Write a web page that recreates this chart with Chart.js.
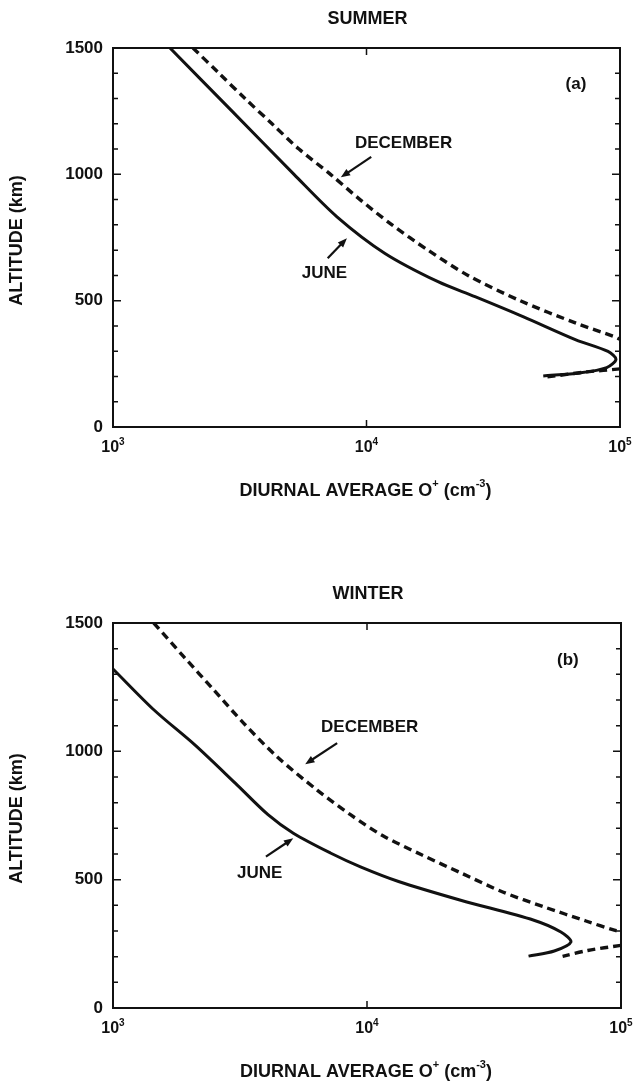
<!DOCTYPE html>
<html>
<head>
<meta charset="utf-8">
<script src="https://cdn.jsdelivr.net/npm/chart.js@4.4.1/dist/chart.umd.min.js"></script>
<style>
  html, body { margin: 0; padding: 0; background: #fff; }
  canvas { display: block; }
</style>
</head>
<body>
<canvas id="summerChart" width="636" height="542"></canvas>
<canvas id="winterChart" width="636" height="543"></canvas>
<script>
// axis settings
const densityMin = 1e3;
const densityMax = 1e5;
const decadeExps = [3, 4, 5];
const altTicks = [0, 500, 1000, 1500];
const altMinorStep = 100;

// summer (a): altitude in km, O+ density in cm^-3
const summerJuneAlt = [1500, 1250, 1000, 832, 687, 575, 516, 437, 345, 299, 268, 235, 214, 202];
const summerJuneDens = [1678, 2948, 5176, 7648, 11830, 19150, 26800, 41430, 67000, 89700, 96400, 88600, 69500, 49800];
const summerDecAlt = [1500, 1400, 1300, 1200, 1100, 1000, 900, 800, 700, 600, 500, 411, 358, 347];
const summerDecDens = [2068, 2619, 3317, 4239, 5416, 7211, 9427, 12610, 17480, 25150, 40330, 67060, 94700, 100000];
const summerDecLowAlt = [230, 218, 198];
const summerDecLowDens = [100000, 73900, 51500];

// winter (b)
const winterJuneAlt = [1321, 1161, 1025, 876, 753, 681, 604, 550, 493, 420, 342, 296, 257, 222, 202];
const winterJuneDens = [1000, 1451, 2100, 3029, 4076, 5129, 7178, 9427, 13310, 23380, 45390, 58000, 63500, 54600, 43250];
const winterDecAlt = [1500, 1370, 1240, 1110, 979, 849, 753, 672, 597, 523, 452, 394, 339, 303, 298];
const winterDecDens = [1447, 1894, 2488, 3266, 4424, 6364, 8610, 11510, 16400, 23810, 34230, 49700, 72780, 94100, 100000];
const winterDecLowAlt = [244, 224, 201];
const winterDecLowDens = [100000, 73900, 58900];

// text labels and arrows, placed in data units
const summerNotes = [
    { text: '(a)', x: 67000, y: 1358 },
    { text: 'DECEMBER', x: 14000, y: 1122 },
    { text: 'JUNE', x: 6820, y: 608 }
];
const summerArrows = [
    { x0: 10440, y0: 1069, x1: 7920, y1: 988 },
    { x0: 7030, y0: 668, x1: 8370, y1: 747 }
];
const winterNotes = [
    { text: '(b)', x: 61800, y: 1353 },
    { text: 'DECEMBER', x: 10250, y: 1093 },
    { text: 'JUNE', x: 3780, y: 525 }
];
const winterArrows = [
    { x0: 7630, y0: 1032, x1: 5710, y1: 950 },
    { x0: 4000, y0: 590, x1: 5125, y1: 661 }
];

const FONT = '"Liberation Sans", Arial, Helvetica, sans-serif';
const INK = '#111';

function toPoints(dens, alt) {
    return dens.map((d, i) => ({ x: d, y: alt[i] }));
}

// draws text made of normal and superscript pieces
function drawRich(ctx, parts, x, y, size, align) {
    const supSize = Math.round(size * 0.62);
    let total = 0;
    parts.forEach(p => {
        ctx.font = `bold ${p.sup ? supSize : size}px ${FONT}`;
        p.w = ctx.measureText(p.t).width;
        total += p.w;
    });
    let cx = x;
    if (align === 'center') cx = x - total / 2;
    if (align === 'right') cx = x - total;
    ctx.textAlign = 'left';
    ctx.textBaseline = 'middle';
    parts.forEach(p => {
        ctx.font = `bold ${p.sup ? supSize : size}px ${FONT}`;
        ctx.fillText(p.t, cx, p.sup ? y - size * 0.38 : y);
        cx += p.w;
    });
}

function drawArrow(ctx, x0, y0, x1, y1) {
    const ang = Math.atan2(y1 - y0, x1 - x0);
    const head = 10;
    ctx.lineWidth = 2.2;
    ctx.beginPath();
    ctx.moveTo(x0, y0);
    ctx.lineTo(x1 - Math.cos(ang) * head * 0.8, y1 - Math.sin(ang) * head * 0.8);
    ctx.stroke();
    ctx.beginPath();
    ctx.moveTo(x1, y1);
    ctx.lineTo(x1 - head * Math.cos(ang - 0.38), y1 - head * Math.sin(ang - 0.38));
    ctx.lineTo(x1 - head * Math.cos(ang + 0.38), y1 - head * Math.sin(ang + 0.38));
    ctx.closePath();
    ctx.fill();
}

const framePlugin = {
    id: 'frame',
    afterDraw(chart, args, opts) {
        const ctx = chart.ctx;
        const area = chart.chartArea;
        const xs = chart.scales.x;
        const ys = chart.scales.y;
        ctx.save();
        ctx.strokeStyle = INK;
        ctx.fillStyle = INK;

        // box
        ctx.lineWidth = 2;
        ctx.strokeRect(area.left, area.top, area.right - area.left, area.bottom - area.top);

        // inward ticks on left and right
        ctx.lineWidth = 1.5;
        for (let a = 0; a <= 1500; a += altMinorStep) {
            const py = ys.getPixelForValue(a);
            const len = a % 500 === 0 ? 8 : 5;
            ctx.beginPath();
            ctx.moveTo(area.left, py);
            ctx.lineTo(area.left + len, py);
            ctx.moveTo(area.right, py);
            ctx.lineTo(area.right - len, py);
            ctx.stroke();
        }
        // inward ticks on top and bottom at inner decades
        decadeExps.slice(1, -1).forEach(e => {
            const px = xs.getPixelForValue(Math.pow(10, e));
            ctx.beginPath();
            ctx.moveTo(px, area.bottom);
            ctx.lineTo(px, area.bottom - 7);
            ctx.moveTo(px, area.top);
            ctx.lineTo(px, area.top + 7);
            ctx.stroke();
        });

        // tick labels
        altTicks.forEach(a => {
            drawRich(ctx, [{ t: String(a) }], area.left - 10, ys.getPixelForValue(a), 17, 'right');
        });
        decadeExps.forEach(e => {
            const px = xs.getPixelForValue(Math.pow(10, e));
            drawRich(ctx, [{ t: '10' }, { t: String(e), sup: true }], px, area.bottom + 21, 16, 'center');
        });

        // titles
        const midX = (area.left + area.right) / 2;
        drawRich(ctx, [{ t: opts.title }], midX + 1, area.top - 29, 18, 'center');
        drawRich(ctx, [{ t: 'DIURNAL AVERAGE O' }, { t: '+', sup: true }, { t: ' (cm' }, { t: '-3', sup: true }, { t: ')' }],
            midX - 1, area.bottom + 64, 18, 'center');
        ctx.save();
        ctx.translate(17, (area.top + area.bottom) / 2 + 3);
        ctx.rotate(-Math.PI / 2);
        drawRich(ctx, [{ t: 'ALTITUDE (km)' }], 0, 0, 18, 'center');
        ctx.restore();

        // annotations
        opts.notes.forEach(n => {
            drawRich(ctx, [{ t: n.text }], xs.getPixelForValue(n.x), ys.getPixelForValue(n.y), 17, 'center');
        });
        opts.arrows.forEach(a => {
            drawArrow(ctx, xs.getPixelForValue(a.x0), ys.getPixelForValue(a.y0),
                xs.getPixelForValue(a.x1), ys.getPixelForValue(a.y1));
        });
        ctx.restore();
    }
};

function makeChart(canvasId, title, padding, june, dec, decLow, notes, arrows) {
    const solid = { borderColor: INK, borderWidth: 3, showLine: true, pointRadius: 0, tension: 0.3, fill: false };
    const dashed = { ...solid, borderWidth: 3.4, borderDash: [8, 5] };
    return new Chart(document.getElementById(canvasId), {
        type: 'scatter',
        data: {
            datasets: [
                { label: 'JUNE', data: june, ...solid },
                { label: 'DECEMBER', data: dec, ...dashed },
                { label: 'DECEMBER low', data: decLow, ...dashed }
            ]
        },
        options: {
            responsive: false,
            animation: false,
            devicePixelRatio: 1,
            layout: { padding: padding },
            scales: {
                x: { type: 'logarithmic', min: densityMin, max: densityMax, display: false },
                y: { type: 'linear', min: 0, max: 1500, display: false }
            },
            plugins: {
                legend: { display: false },
                tooltip: { enabled: false },
                frame: { title: title, notes: notes, arrows: arrows }
            }
        },
        plugins: [framePlugin]
    });
}

makeChart('summerChart', 'SUMMER', { left: 113, right: 16, top: 48, bottom: 115 },
    toPoints(summerJuneDens, summerJuneAlt),
    toPoints(summerDecDens, summerDecAlt),
    toPoints(summerDecLowDens, summerDecLowAlt),
    summerNotes, summerArrows);

makeChart('winterChart', 'WINTER', { left: 113, right: 15, top: 81, bottom: 77 },
    toPoints(winterJuneDens, winterJuneAlt),
    toPoints(winterDecDens, winterDecAlt),
    toPoints(winterDecLowDens, winterDecLowAlt),
    winterNotes, winterArrows);
</script>
</body>
</html>
